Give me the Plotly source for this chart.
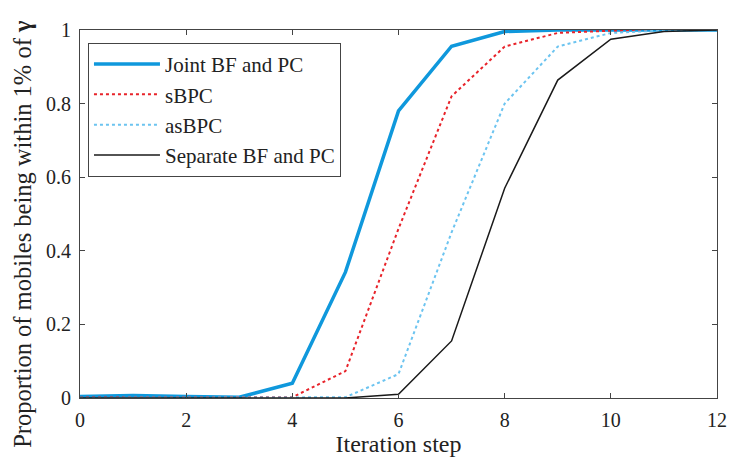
import plotly.graph_objects as go

steps = list(range(13))

joint_bf_pc = [0.004, 0.007, 0.004, 0.002, 0.040, 0.342, 0.780, 0.956, 0.996, 1.0, 1.0, 1.0, 1.0]
sbpc = [0.001, 0.001, 0.001, 0.001, 0.002, 0.073, 0.460, 0.820, 0.955, 0.992, 0.998, 1.0, 1.0]
asbpc = [0.0, 0.0, 0.0, 0.0, 0.0, 0.002, 0.065, 0.450, 0.800, 0.955, 0.992, 0.999, 1.0]
separate_bf_pc = [0.0, 0.0, 0.0, 0.0, 0.0, 0.0, 0.010, 0.155, 0.570, 0.864, 0.975, 0.996, 1.0]

x_ticks = [0, 2, 4, 6, 8, 10, 12]
y_ticks = [0, 0.2, 0.4, 0.6, 0.8, 1]
y_tick_text = ["0", "0.2", "0.4", "0.6", "0.8", "1"]

FONT = "Liberation Serif, Times New Roman, serif"

fig = go.Figure()
fig.add_trace(go.Scatter(x=steps, y=joint_bf_pc, mode="lines", name="Joint BF and PC",
                         line=dict(color="#0f98dc", width=3.5)))
fig.add_trace(go.Scatter(x=steps, y=sbpc, mode="lines", name="sBPC",
                         line=dict(color="#e8232a", width=2, dash="dot")))
fig.add_trace(go.Scatter(x=steps, y=asbpc, mode="lines", name="asBPC",
                         line=dict(color="#6cc4f0", width=2, dash="dot")))
fig.add_trace(go.Scatter(x=steps, y=separate_bf_pc, mode="lines", name="Separate BF and PC",
                         line=dict(color="#1a1a1a", width=1.5)))

axis_common = dict(
    showgrid=False, zeroline=False, showline=True, linecolor="#444", linewidth=1,
    mirror="ticks", ticks="inside", ticklen=5, tickcolor="#444",
    tickfont=dict(family=FONT, size=20, color="#222"),
)

fig.update_layout(
    width=730, height=460,
    margin=dict(l=80, r=13, t=30, b=62, autoexpand=False),
    paper_bgcolor="white", plot_bgcolor="white",
    font=dict(family=FONT, color="#222"),
    showlegend=True,
    legend=dict(
        x=0.0125, y=0.965, xanchor="left", yanchor="top",
        bgcolor="white", bordercolor="#444", borderwidth=1,
        font=dict(family=FONT, size=21, color="#222"),
        itemwidth=66, tracegroupgap=0,
    ),
    xaxis=dict(range=[0, 12], tickvals=x_ticks, ticklabelstandoff=4,
               title=dict(text="Iteration step", font=dict(family=FONT, size=24), standoff=2),
               **axis_common),
    yaxis=dict(range=[0, 1], tickvals=y_ticks, ticktext=y_tick_text, ticklabelstandoff=4,
               **axis_common),
)

# y-axis label, set slightly below the plot's mid-height
fig.add_annotation(
    text="Proportion of mobiles being within 1% of <b>γ</b>",
    xref="paper", yref="paper", x=-0.0895, y=0.446,
    xanchor="center", yanchor="middle", textangle=-90, showarrow=False,
    font=dict(family=FONT, size=24.5, color="#222"),
)

fig.write_html("out.html")
